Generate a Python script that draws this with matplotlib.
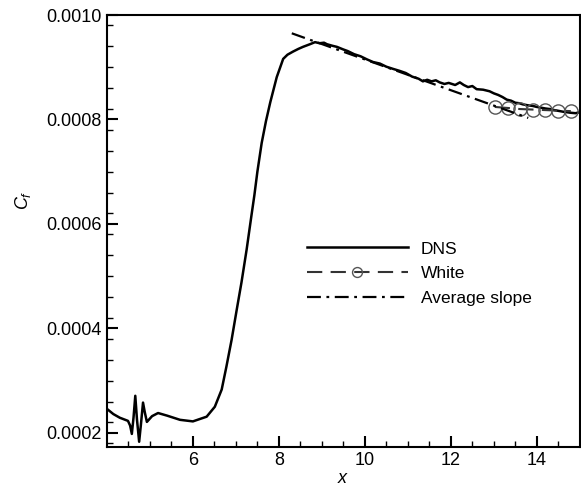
import numpy as np
import matplotlib.pyplot as plt

# ------------------------------------------------------------------------
# data
dns_x = [4.0, 4.15, 4.3, 4.49, 4.54, 4.58, 4.62, 4.66, 4.70, 4.75, 4.79, 4.84,
         4.88, 4.93, 5.05, 5.19, 5.4, 5.7, 6.0, 6.32, 6.51, 6.67, 6.78, 6.90,
         7.02, 7.13, 7.25, 7.36, 7.43, 7.5, 7.6, 7.7, 7.8, 7.95, 8.10, 8.2, 8.33,
         8.45, 8.56, 8.72, 8.84, 8.95, 9.05, 9.12, 9.25, 9.35, 9.5, 9.6, 9.75,
         9.9, 10.05, 10.19, 10.35, 10.5, 10.65, 10.81, 10.95, 11.1, 11.25,
         11.35, 11.45, 11.55, 11.65, 11.74, 11.85, 11.95, 12.1, 12.21, 12.3,
         12.4, 12.5, 12.6, 12.75, 12.9, 13.0, 13.1, 13.2, 13.3, 13.4, 13.5,
         13.6, 13.67, 13.8, 13.9, 14.0, 14.07, 14.2, 14.3, 14.4, 14.47, 14.6,
         14.77, 14.9, 15.0]
dns_cf = [0.000246, 0.000236, 0.000229, 0.000223, 0.000214, 0.000198, 0.000230,
          0.000271, 0.000225, 0.000183, 0.000215, 0.000258, 0.000240, 0.000221,
          0.000232, 0.000238, 0.000233, 0.000225, 0.000222, 0.000231, 0.000250,
          0.000283, 0.000327, 0.000378, 0.000436, 0.000488, 0.000551, 0.000615,
          0.000655, 0.000700, 0.000755, 0.000797, 0.000833, 0.000881, 0.000916,
          0.000924, 0.000930, 0.000935, 0.000939, 0.000944, 0.000948, 0.000946,
          0.000947, 0.000944, 0.000941, 0.000939, 0.000934, 0.000931, 0.000925,
          0.000921, 0.000915, 0.000910, 0.000907, 0.000901, 0.000897, 0.000893,
          0.000889, 0.000882, 0.000878, 0.000873, 0.000876, 0.000873, 0.000875,
          0.000871, 0.000868, 0.000870, 0.000866, 0.000871, 0.000866, 0.000862,
          0.000864, 0.000858, 0.000857, 0.000854, 0.000850, 0.000847, 0.000843,
          0.000838, 0.000836, 0.000832, 0.000831, 0.000829, 0.000827, 0.000826,
          0.000824, 0.000823, 0.000821, 0.000820, 0.000818, 0.000817, 0.000815,
          0.000813, 0.000812, 0.000814]

white_x = [13.02, 13.33, 13.6, 13.9, 14.19, 14.49, 14.79]
white_cf = [0.000824, 0.000822, 0.000820, 0.000819, 0.000818, 0.000817, 0.000816]

slope_x = [8.3, 13.8]
slope_cf = [0.000965, 0.000803]

# ------------------------------------------------------------------------
plt.rcParams['font.family'] = ['Liberation Sans', 'DejaVu Sans']
plt.rcParams['mathtext.fontset'] = 'custom'
plt.rcParams['mathtext.rm'] = 'Liberation Sans'
plt.rcParams['mathtext.it'] = 'Liberation Sans:italic'
plt.rcParams['lines.scale_dashes'] = False

fig = plt.figure(figsize=(5.81, 4.92), dpi=100)
ax = fig.add_axes([0.184, 0.0915, 0.814, 0.878])

ax.plot(dns_x, dns_cf, color='black', lw=1.8, label='DNS')
ax.plot(white_x, white_cf, color='#333333', lw=1.5, dashes=(11, 6),
        marker='o', markersize=9.5, markerfacecolor='none',
        markeredgecolor='#555555', markeredgewidth=1.0, label='White')
ax.plot(slope_x, slope_cf, color='black', lw=1.6, dashes=(10, 4, 2, 4),
        label='Average slope')

ax.set_xlim(4, 15)
ax.set_ylim(0.000173, 0.001)
ax.set_xticks([6, 8, 10, 12, 14])
ax.set_xticks(np.arange(4.5, 15, 0.5), minor=True)
ax.set_yticks([0.0002, 0.0004, 0.0006, 0.0008, 0.0010])
ax.set_yticks(np.arange(0.00018, 0.001, 0.00004), minor=True)
ax.yaxis.set_major_formatter(plt.FormatStrFormatter('%.4f'))
ax.tick_params(which='both', direction='in', top=False, right=False,
               labelsize=13)
ax.tick_params(which='major', length=8, width=1.5)
ax.tick_params(which='minor', length=4, width=1)
for s in ax.spines.values():
    s.set_linewidth(1.5)

ax.set_xlabel('$x$', fontsize=13)
ax.xaxis.set_label_coords(0.5, -0.053)
ax.set_ylabel('$C_f$', fontsize=13)
ax.yaxis.set_label_coords(-0.157, 0.572)

ax.legend(loc='upper left', bbox_to_anchor=(0.423, 0.476), frameon=False,
          fontsize=12.5, handlelength=5.8, handletextpad=0.75,
          labelspacing=0.55, numpoints=1, markerscale=0.75,
          borderpad=0, borderaxespad=0)

fig.savefig('out.png', dpi=100)
